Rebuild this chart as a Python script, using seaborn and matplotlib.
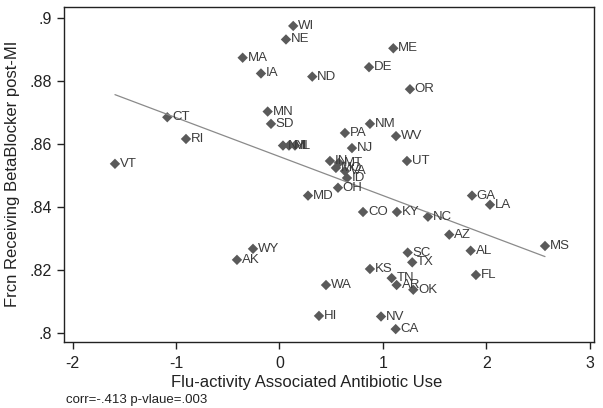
import seaborn as sns
import matplotlib.pyplot as plt
import pandas as pd

states = ['WI', 'NE', 'MA', 'IA', 'ND', 'ME', 'DE', 'OR', 'MN', 'SD',
          'CT', 'RI', 'VT', 'PA', 'NM', 'WV', 'NJ', 'UT', 'NY', 'MI',
          'IL', 'IN', 'MT', 'MO', 'VA', 'ID', 'OH', 'MD', 'CO', 'KY',
          'NC', 'GA', 'LA', 'AZ', 'AL', 'MS', 'FL', 'WY', 'AK', 'SC',
          'TX', 'KS', 'TN', 'AR', 'OK', 'WA', 'HI', 'NV', 'CA']
flu_abx = [0.133, 0.063, -0.356, -0.179, 0.317, 1.101, 0.866, 1.262, -0.114, -0.082,
           -1.085, -0.904, -1.591, 0.633, 0.875, 1.127, 0.701, 1.233, 0.034, 0.092,
           0.150, 0.488, 0.575, 0.546, 0.633, 0.653, 0.566, 0.276, 0.808, 1.136,
           1.436, 1.862, 2.036, 1.642, 1.849, 2.568, 1.900, -0.256, -0.411, 1.240,
           1.284, 0.875, 1.085, 1.133, 1.294, 0.450, 0.382, 0.982, 1.124]
beta_frac = [.8974, .8931, .8873, .8823, .8813, .8903, .8843, .8773, .8702, .8663,
             .8684, .8615, .8536, .8634, .8663, .8624, .8586, .8545, .8594, .8594,
             .8594, .8545, .8539, .8523, .8513, .8491, .8460, .8435, .8383, .8383,
             .8368, .8435, .8406, .8311, .8260, .8275, .8183, .8266, .8231, .8254,
             .8223, .8202, .8173, .8151, .8136, .8151, .8053, .8051, .8011]

x_ticks = [-2, -1, 0, 1, 2, 3]
y_ticks = [.8, .82, .84, .86, .88, .9]
y_tick_labels = ['.8', '.82', '.84', '.86', '.88', '.9']


def generate_plot(df):
    '''Scatter of states with linear fit'''
    sns.set_theme(style='white')
    plt.rcParams['font.family'] = ['Liberation Sans', 'DejaVu Sans']
    plt.rcParams['axes.unicode_minus'] = False

    fig = plt.figure(figsize=(6.03, 4.08), dpi=100)
    ax = fig.add_axes([0.1061, 0.1625, 0.879, 0.821])

    sns.regplot(data=df, x='abx', y='frac', scatter=False, ci=None,
                truncate=True, color='#8a8a8a', line_kws={'lw': 0.9}, ax=ax)
    sns.scatterplot(data=df, x='abx', y='frac', marker='D', s=28,
                    color='#5a5a5a', edgecolor='none', ax=ax)

    for _, row in df.iterrows():
        ax.annotate(row['state'], (row['abx'], row['frac']), xytext=(3.5, 0),
                    textcoords='offset points', va='center', ha='left',
                    fontsize=9.5, color='#3c3c3c')

    ax.set_xlim(-2.084, 3.042)
    ax.set_ylim(.7971, .9035)
    ax.set_xticks(x_ticks)
    ax.set_yticks(y_ticks)
    ax.set_yticklabels(y_tick_labels)
    ax.set_xlabel('')
    ax.set_ylabel('')
    ax.tick_params(bottom=True, left=True, direction='out', length=5,
                   width=1, color='#222222', labelsize=11.5, labelcolor='#222222')
    ax.tick_params(axis='x', pad=5)
    for sp in ax.spines.values():
        sp.set_color('#222222')
        sp.set_linewidth(1)

    fig.text(0.02, 0.573, 'Frcn Receiving BetaBlocker post-MI', rotation=90,
             ha='center', va='center', fontsize=12, color='#222222')
    fig.text(307 / 603, 1 - 383 / 408, 'Flu-activity Associated Antibiotic Use',
             ha='center', va='center', fontsize=12, color='#222222')
    fig.text(66 / 603, 1 - 399.5 / 408, 'corr=-.413 p-vlaue=.003',
             ha='left', va='center', fontsize=9.5, color='#222222')

    fig.savefig('out.png', dpi=100)


def main():
    df = pd.DataFrame({'state': states, 'abx': flu_abx, 'frac': beta_frac})
    generate_plot(df)


if __name__ == '__main__':
    main()
